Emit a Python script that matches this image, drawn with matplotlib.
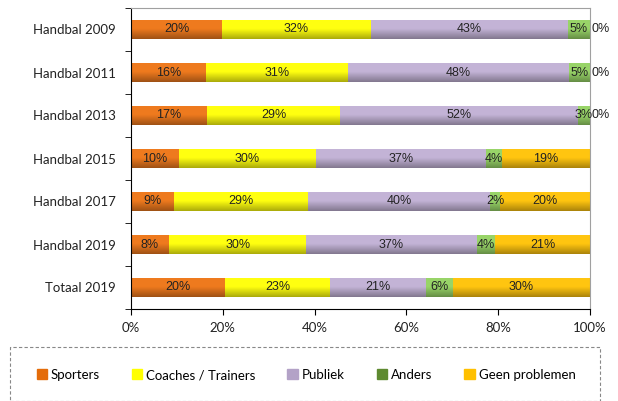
import numpy as np
import matplotlib.pyplot as plt
from matplotlib.patches import Rectangle
from matplotlib.ticker import PercentFormatter

categories = ['Handbal 2009', 'Handbal 2011', 'Handbal 2013', 'Handbal 2015',
              'Handbal 2017', 'Handbal 2019', 'Totaal 2019']
series = ['Sporters', 'Coaches / Trainers', 'Publiek', 'Anders', 'Geen problemen']
sporters = [19.9, 16.4, 16.6, 10.4, 9.3, 8.3, 20.5]
coaches = [32.3, 30.8, 29.0, 29.8, 29.2, 29.9, 22.9]
publiek = [43.0, 48.2, 51.8, 37.1, 39.8, 37.1, 20.8]
anders = [4.8, 4.6, 2.6, 3.6, 2.2, 4.0, 5.9]
geen = [0.0, 0.0, 0.0, 19.1, 19.5, 20.7, 29.9]

colors = ['#EE7A1E', '#FFFF10', '#C3B3D6', '#98D468', '#FFC510']
legend_colors = ['#E46C0A', '#FFFF00', '#B3A2C7', '#5E8A30', '#FFC000']

label_font = ['Liberation Sans Narrow', 'Liberation Sans', 'DejaVu Sans']
text_font = ['Lato', 'DejaVu Sans']

fig = plt.figure(figsize=(6.18, 4.01), dpi=100)
ax = fig.add_axes([131 / 618, 1 - 309 / 401, 459 / 618, 301 / 401])

bar_h = 0.44
ypos = list(range(len(categories)))
left = [0.0] * len(categories)
data = [sporters, coaches, publiek, anders, geen]
for name, vals, col in zip(series, data, colors):
    ax.barh(ypos, vals, left=left, height=bar_h, color=col, edgecolor='none', zorder=1)
    for y, v, l in zip(ypos, vals, left):
        if v > 0:
            ax.text(l + v / 2, y, f'{round(v)}%', ha='center', va='center', zorder=3,
                    fontsize=9, family=label_font, color='#222222')
        else:
            ax.text(l + 0.3, y, '0%', ha='left', va='center', zorder=3,
                    fontsize=9, family=label_font, color='#222222')
    left = [a + b for a, b in zip(left, vals)]

# shading overlay: darker towards the bottom of each bar
shade = np.zeros((32, 1, 4))
t = np.linspace(0, 1, 32)
shade[:, 0, 3] = np.clip((t - 0.45) * 0.6, 0, None)
for y, total in zip(ypos, left):
    ax.imshow(shade, extent=(0, total, y + bar_h / 2, y - bar_h / 2), aspect='auto',
              interpolation='bilinear', zorder=2)

ax.set_xlim(0, 100)
ax.set_ylim(len(categories) - 0.5, -0.5)
ax.set_aspect('auto')
ax.xaxis.set_major_formatter(PercentFormatter(decimals=0))
ax.set_xticks(range(0, 101, 20))
ax.set_yticks(ypos)
ax.set_yticklabels(categories)
ax.set_yticks([i - 0.5 for i in range(len(categories) + 1)], minor=True)
ax.tick_params(axis='y', which='major', length=0, pad=11)
ax.tick_params(axis='y', which='minor', length=4, direction='out')
ax.tick_params(axis='x', length=4, direction='out', pad=5)
for lab in ax.get_xticklabels() + ax.get_yticklabels():
    lab.set_family(text_font)
    lab.set_fontsize(9.5)
    lab.set_color('#222222')

ax.spines['left'].set_color('black')
ax.spines['bottom'].set_color('black')
ax.spines['top'].set_color('#A0A0A0')
ax.spines['right'].set_color('#A0A0A0')

# legend box
fig.patches.append(Rectangle((10 / 618, 0), 590 / 618, 54 / 401, transform=fig.transFigure,
                             fill=False, edgecolor='#888888', linestyle=(0, (3, 2)), linewidth=0.8))
handles = [Rectangle((0, 0), 1, 1, color=c) for c in legend_colors]
fig.legend(handles, series, loc='center', bbox_to_anchor=(306 / 618, 1 - 375 / 401),
           ncol=5, frameon=False, prop={'family': text_font, 'size': 9.5},
           handlelength=0.8, handleheight=0.8, handletextpad=0.3, columnspacing=2.4)

fig.savefig('out.png', dpi=100)
